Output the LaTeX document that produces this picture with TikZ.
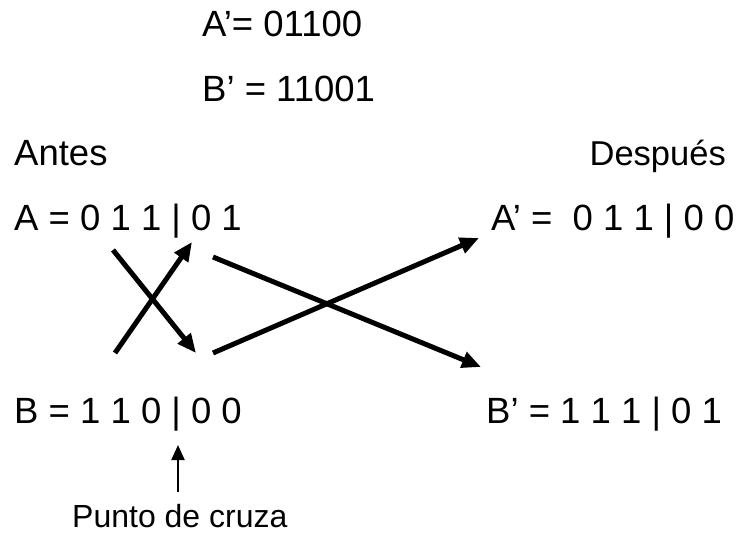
\documentclass[tikz,border=0pt]{standalone}
\usepackage{fontspec}
\setmainfont{Liberation Sans}
\usetikzlibrary{arrows.meta}
\tikzset{
  lbl/.style={inner sep=0pt, anchor=base west, font=\fontsize{36.5}{44}\selectfont},
  small/.style={inner sep=0pt, anchor=base west, font=\fontsize{32}{38}\selectfont},
  thick arrow/.style={line width=5pt, -{Triangle[length=19pt,width=16pt]}},
  thin arrow/.style={line width=2pt, -{Triangle[length=15pt,width=13pt]}}
}
\begin{document}
\begin{tikzpicture}[x=1pt,y=-1pt]
\useasboundingbox (0,0) rectangle (740,535);
\node[lbl] (ap) at (202,37) {A’= 01100};
\node[lbl] (bp) at (202,102) {B’ = 11001};
\node[lbl] (antes) at (14,165) {Antes};
\node[lbl, anchor=base east, font=\fontsize{34.5}{41}\selectfont] (despues) at (726,165) {Después};
\node[lbl] (a) at (14,230) {A = 0 1 1 | 0 1};
\node[lbl] (a2) at (491,230) {A’ =\ \ 0 1 1 | 0 0};
\node[lbl] (b) at (14,423) {B = 1 1 0 | 0 0};
\node[lbl] (b2) at (486,423) {B’ = 1 1 1 | 0 1};
\node[small] (punto) at (72,527) {Punto de cruza};
% arrow coordinates
\coordinate (s1) at (113,250);
\coordinate (e1) at (196,353);
\coordinate (s2) at (115,353);
\coordinate (e2) at (192,242);
\coordinate (s3) at (213,257);
\coordinate (e3) at (481,367);
\coordinate (s4) at (213,353);
\coordinate (e4) at (479,238);
\coordinate (ps) at (178,492);
\coordinate (pe) at (178,445);
\draw[thick arrow] (s1) -- (e1);
\draw[thick arrow] (s2) -- (e2);
\draw[thick arrow] (s3) -- (e3);
\draw[thick arrow] (s4) -- (e4);
\draw[thin arrow] (ps) -- (pe);
\end{tikzpicture}
\end{document}
